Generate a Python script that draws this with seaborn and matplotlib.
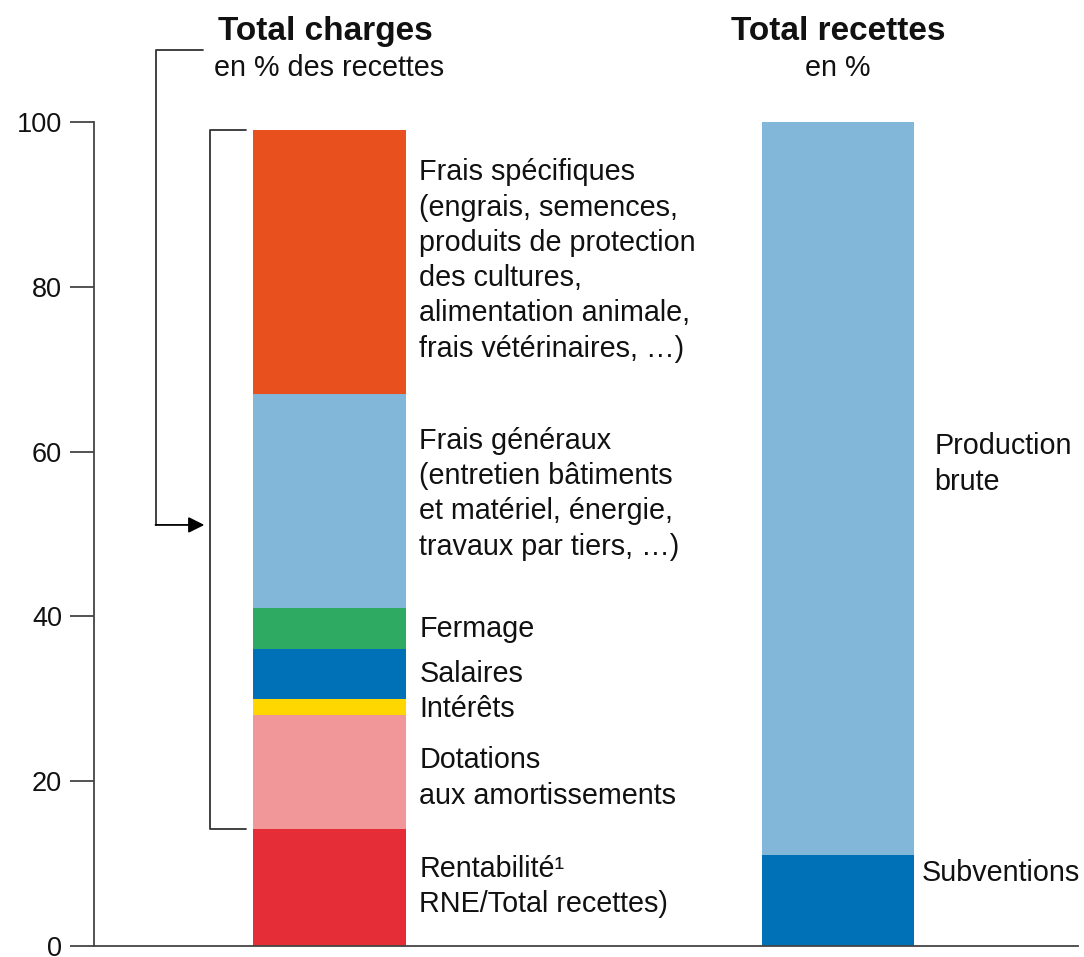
import numpy as np
import pandas as pd
import matplotlib
matplotlib.use("Agg")
import matplotlib.pyplot as plt
import seaborn as sns

# Données (en % des recettes), du bas vers le haut
charges_labels = ["Rentabilité¹\nRNE/Total recettes)",
                  "Dotations\naux amortissements",
                  "Intérêts",
                  "Salaires",
                  "Fermage",
                  "Frais généraux\n(entretien bâtiments\net matériel, énergie,\ntravaux par tiers, …)",
                  "Frais spécifiques\n(engrais, semences,\nproduits de protection\ndes cultures,\nalimentation animale,\nfrais vétérinaires, …)"]
charges_values = [14.2, 13.8, 2.0, 6.0, 5.0, 26.0, 32.0]
charges_colors = ["#E52D37", "#F1979A", "#FFD700", "#0071B6", "#2FAA63", "#82B7DA", "#E8511D"]

recettes_labels = ["Subventions", "Production\nbrute"]
recettes_values = [11.0, 89.0]
recettes_colors = ["#0071B6", "#82B7DA"]

groups = ["Total charges", "Total recettes"]

sns.set_style("white")
plt.rcParams['font.family'] = ['Liberation Sans', 'DejaVu Sans']
text_col = "#111111"

fig = plt.figure(figsize=(10.84, 9.57), dpi=100)
ax = fig.add_axes([94 / 1084, 11 / 957, 984 / 1084, 824 / 957])

bar_w = 0.30


def stacked(group, values, colors):
    tops = np.cumsum(values)
    # on dessine du plus haut au plus bas, chaque barre recouvre la précédente
    for top, c in zip(tops[::-1], colors[::-1]):
        df = pd.DataFrame({"groupe": [group], "valeur": [top]})
        sns.barplot(data=df, x="groupe", y="valeur", order=groups, color=c,
                    saturation=1, width=bar_w, linewidth=0, ax=ax)
    return tops


tops_c = stacked(groups[0], charges_values, charges_colors)
tops_r = stacked(groups[1], recettes_values, recettes_colors)

ax.set_xlim(-0.463, 1.472)
ax.set_ylim(0, 100)
ax.set_xlabel("")
ax.set_ylabel("")
ax.set_xticks([])
ax.set_yticks([0, 20, 40, 60, 80, 100])
ax.tick_params(axis="y", direction="out", length=17, width=1.3, color="#444444",
               pad=6, labelsize=19.5, labelcolor=text_col, left=True)
for s in ["top", "right"]:
    ax.spines[s].set_visible(False)
for s in ["left", "bottom"]:
    ax.spines[s].set_color("#444444")
    ax.spines[s].set_linewidth(1.3)

# Étiquettes des segments
label_fs = 20.7
lsp = 1.33
label_y_c = [7.2, 20.4, 28.8, 33.0, 38.5, 54.9, 83.2]
for lab, y in zip(charges_labels, label_y_c):
    ax.text(0.177, y, lab, ha="left", va="center", fontsize=label_fs,
            color=text_col, linespacing=lsp)

label_y_r = [8.8, 58.5]
label_x_r = [1.164, 1.190]
for lab, y, x in zip(recettes_labels, label_y_r, label_x_r):
    ax.text(x, y, lab, ha="left", va="center", fontsize=label_fs,
            color=text_col, linespacing=lsp)

# Titres au-dessus des barres
ax.text(-0.008, 111.0, "Total charges", ha="center", va="center", fontsize=24,
        fontweight="bold", color=text_col, clip_on=False)
ax.text(0.0, 106.5, "en % des recettes", ha="center", va="center", fontsize=label_fs,
        color=text_col, clip_on=False)
ax.text(1.0, 111.0, "Total recettes", ha="center", va="center", fontsize=24,
        fontweight="bold", color=text_col, clip_on=False)
ax.text(1.0, 106.5, "en %", ha="center", va="center", fontsize=label_fs,
        color=text_col, clip_on=False)

# Accolade intérieure (total des charges)
lc = "#333333"
ax.plot([-0.164, -0.235, -0.235, -0.164], [tops_c[-1], tops_c[-1], tops_c[0], tops_c[0]],
        color=lc, lw=1.3, clip_on=False)
# Flèche extérieure
ax.plot([-0.249, -0.341, -0.341], [108.7, 108.7, 51.1], color=lc, lw=1.3, clip_on=False)
ax.annotate("", xy=(-0.246, 51.1), xytext=(-0.342, 51.1),
            arrowprops=dict(arrowstyle="-|>", color="black", lw=1.3,
                            mutation_scale=24, shrinkA=0, shrinkB=0),
            annotation_clip=False)

fig.savefig("out.png", dpi=100)
